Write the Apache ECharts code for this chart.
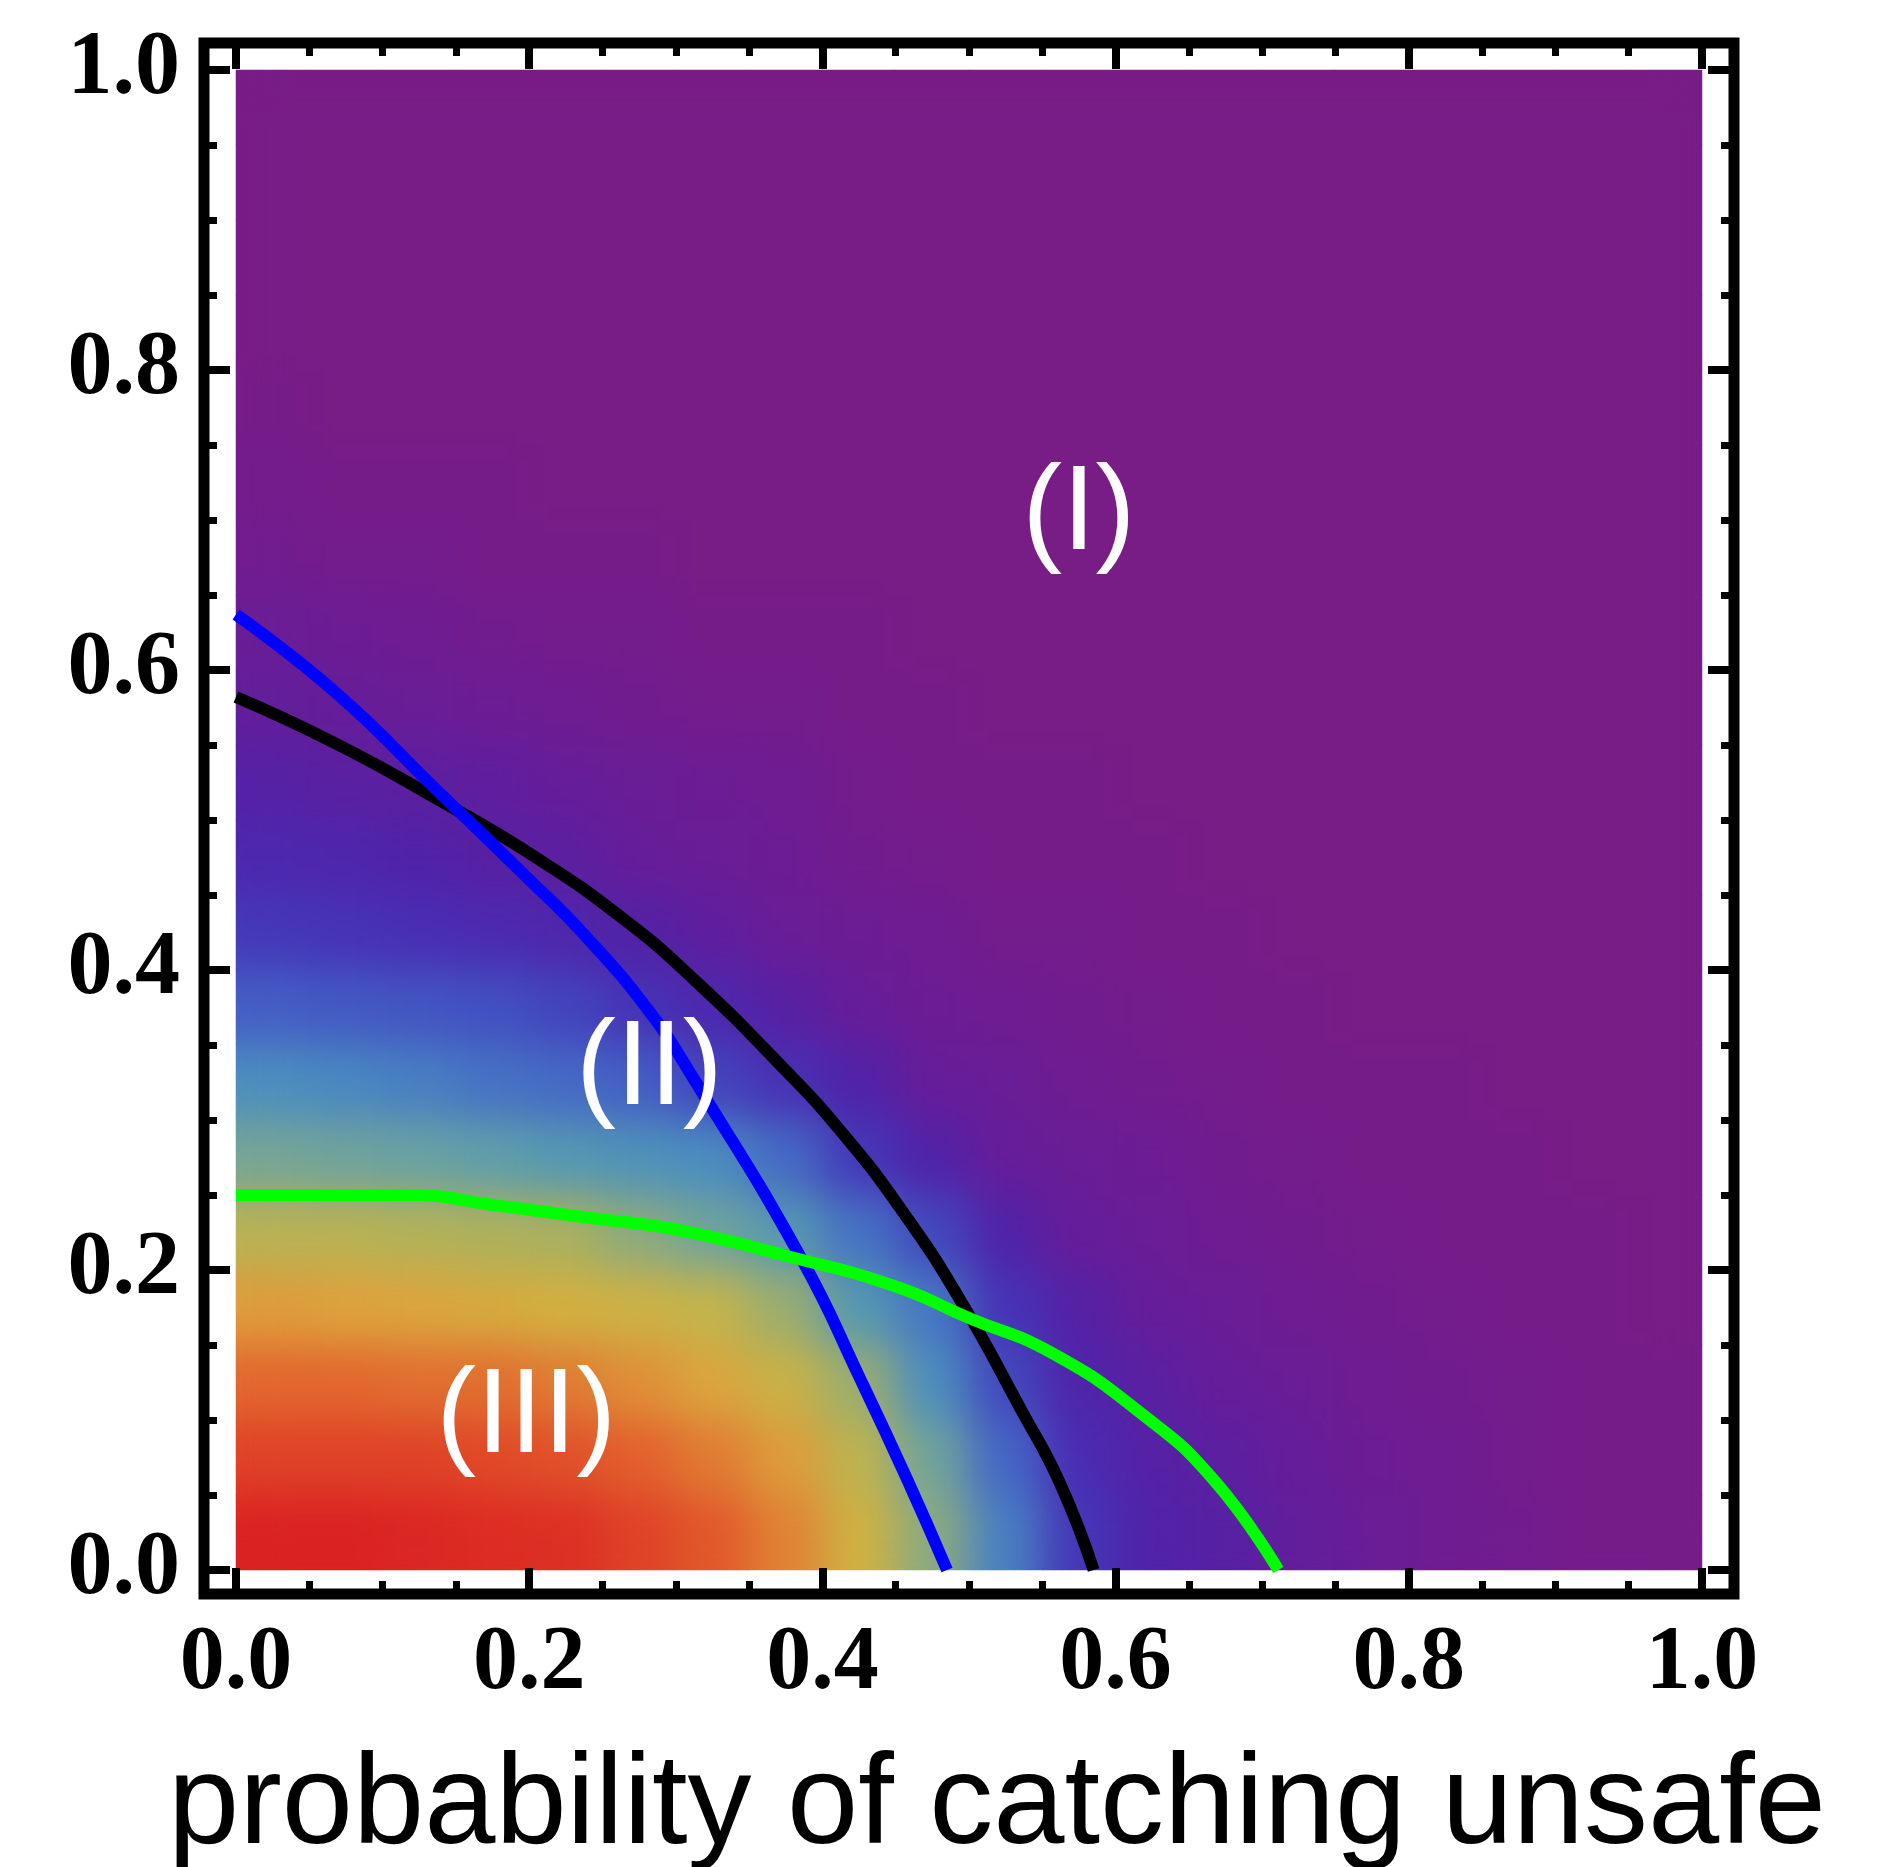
<!DOCTYPE html>
<html>
<head>
<meta charset="utf-8">
<script src="https://cdn.jsdelivr.net/npm/echarts@6/dist/echarts.min.js"></script>
<style>
  html, body { margin: 0; padding: 0; background: #fff; overflow: hidden; }
  #heat, #main { position: absolute; left: 0; top: 0; width: 1884px; height: 1867px; }
  #softWrap { position: absolute; left: 236px; top: 70px; width: 1466px; height: 1500px; overflow: hidden; }
  #soft { width: 1466px; height: 1500px; filter: url(#soften); }
</style>
</head>
<body>
<!-- blur that keeps the edges opaque (alpha is renormalised after the blur) -->
<svg width="0" height="0" style="position:absolute">
  <filter id="soften" x="-5%" y="-5%" width="110%" height="110%" color-interpolation-filters="sRGB">
    <feGaussianBlur stdDeviation="22"/>
    <feComponentTransfer><feFuncA type="linear" slope="60" intercept="0"/></feComponentTransfer>
  </filter>
</svg>
<div id="heat"></div>
<div id="softWrap"><div id="soft"></div></div>
<div id="main"></div>
<script type="text/javascript">
// cell centres of the density map (x across, y from bottom to top)
var cellX = ['0.025','0.075','0.125','0.175','0.225','0.275','0.325','0.375','0.425','0.475',
             '0.525','0.575','0.625','0.675','0.725','0.775','0.825','0.875','0.925','0.975'];
var cellY = cellX.slice();

// density values, one row per y cell, bottom row first
var cellValues = [
  [1.00,1.00,0.99,0.98,0.97,0.94,0.91,0.85,0.74,0.61,0.42,0.24,0.15,0.12,0.08,0.06,0.04,0.03,0.01,0.01],
  [0.94,0.94,0.94,0.93,0.92,0.90,0.86,0.81,0.69,0.57,0.36,0.20,0.13,0.10,0.07,0.05,0.04,0.02,0.01,0.01],
  [0.89,0.89,0.88,0.88,0.86,0.83,0.79,0.72,0.63,0.46,0.29,0.16,0.11,0.07,0.06,0.04,0.03,0.02,0.01,0.01],
  [0.81,0.80,0.79,0.77,0.75,0.73,0.70,0.63,0.51,0.40,0.23,0.13,0.07,0.06,0.04,0.03,0.02,0.01,0.01,0.00],
  [0.68,0.68,0.67,0.66,0.65,0.61,0.57,0.51,0.39,0.29,0.15,0.07,0.06,0.04,0.03,0.02,0.01,0.01,0.01,0.00],
  [0.58,0.57,0.56,0.54,0.51,0.48,0.45,0.37,0.25,0.15,0.07,0.06,0.05,0.03,0.02,0.01,0.01,0.01,0.00,0.00],
  [0.46,0.44,0.42,0.39,0.37,0.34,0.28,0.22,0.15,0.07,0.06,0.04,0.03,0.02,0.01,0.01,0.01,0.00,0.00,0.00],
  [0.34,0.33,0.32,0.31,0.28,0.23,0.18,0.12,0.07,0.05,0.04,0.03,0.02,0.01,0.01,0.00,0.00,0.00,0.00,0.00],
  [0.25,0.23,0.21,0.19,0.17,0.14,0.09,0.06,0.05,0.04,0.02,0.02,0.01,0.01,0.00,0.00,0.00,0.00,0.00,0.00],
  [0.18,0.17,0.15,0.12,0.10,0.07,0.06,0.05,0.03,0.02,0.01,0.01,0.01,0.00,0.00,0.00,0.00,0.00,0.00,0.00],
  [0.13,0.11,0.10,0.09,0.07,0.06,0.05,0.04,0.02,0.01,0.01,0.01,0.00,0.00,0.00,0.00,0.00,0.00,0.00,0.00],
  [0.08,0.07,0.06,0.05,0.04,0.03,0.02,0.02,0.01,0.01,0.00,0.00,0.00,0.00,0.00,0.00,0.00,0.00,0.00,0.00],
  [0.06,0.05,0.04,0.03,0.02,0.02,0.01,0.01,0.01,0.00,0.00,0.00,0.00,0.00,0.00,0.00,0.00,0.00,0.00,0.00],
  [0.03,0.02,0.02,0.01,0.01,0.01,0.00,0.00,0.00,0.00,0.00,0.00,0.00,0.00,0.00,0.00,0.00,0.00,0.00,0.00],
  [0.02,0.01,0.01,0.01,0.00,0.00,0.00,0.00,0.00,0.00,0.00,0.00,0.00,0.00,0.00,0.00,0.00,0.00,0.00,0.00],
  [0.01,0.00,0.00,0.00,0.00,0.00,0.00,0.00,0.00,0.00,0.00,0.00,0.00,0.00,0.00,0.00,0.00,0.00,0.00,0.00],
  [0.00,0.00,0.00,0.00,0.00,0.00,0.00,0.00,0.00,0.00,0.00,0.00,0.00,0.00,0.00,0.00,0.00,0.00,0.00,0.00],
  [0.00,0.00,0.00,0.00,0.00,0.00,0.00,0.00,0.00,0.00,0.00,0.00,0.00,0.00,0.00,0.00,0.00,0.00,0.00,0.00],
  [0.00,0.00,0.00,0.00,0.00,0.00,0.00,0.00,0.00,0.00,0.00,0.00,0.00,0.00,0.00,0.00,0.00,0.00,0.00,0.00],
  [0.00,0.00,0.00,0.00,0.00,0.00,0.00,0.00,0.00,0.00,0.00,0.00,0.00,0.00,0.00,0.00,0.00,0.00,0.00,0.00]
];

// boundary curves [x, y]
var blueCurve = [[0,0.637],[0.068,0.585],[0.139,0.518],[0.195,0.465],[0.239,0.422],[0.283,0.371],
                 [0.310,0.331],[0.386,0.207],[0.426,0.127],[0.458,0.060],[0.485,0]];
var blackCurve = [[0,0.582],[0.068,0.551],[0.139,0.513],[0.203,0.476],[0.263,0.435],[0.312,0.394],
                  [0.371,0.337],[0.413,0.292],[0.454,0.240],[0.494,0.180],[0.536,0.106],[0.562,0.058],[0.585,0]];
var greenCurve = [[0,0.25],[0.117,0.25],[0.178,0.243],[0.239,0.235],[0.3,0.227],[0.377,0.209],
                  [0.45,0.189],[0.5,0.168],[0.556,0.145],[0.618,0.104],[0.667,0.06],[0.711,0]];

// region names and where they sit
var regionLabels = [['(I)', 0.575, 0.703], ['(II)', 0.282, 0.333], ['(III)', 0.198, 0.101]];
var xTitle = 'probability of catching unsafe';

// rainbow colour scale, 0 (purple) to 1 (red)
var rainbow = ['#781C86','#6C1C94','#5C1FA0','#5022A8','#4A2CB2','#4438B8','#424CC0','#4462C6',
               '#4676C4','#4A8CC0','#5296B4','#62A0A8','#84A888','#A8B060','#C2B44C','#D2B040',
               '#DDA23C','#E08234','#E2602D','#DE3A25','#DA2222'];

function heatOption(gridPos) {
  var data = [];
  cellValues.forEach(function (row, r) {
    row.forEach(function (v, c) { data.push([c, r, v]); });
  });
  return {
    animation: false,
    grid: gridPos,
    xAxis: { type: 'category', data: cellX, show: false },
    yAxis: { type: 'category', data: cellY, show: false },
    visualMap: { show: false, min: 0, max: 1, inRange: { color: rainbow } },
    series: [{ type: 'heatmap', data: data, progressive: 0 }]
  };
}

// sharp cells underneath, smoothed copy on top of them
echarts.init(document.getElementById('heat')).setOption(
  heatOption({ left: 236, top: 70, width: 1466, height: 1500 }));
echarts.init(document.getElementById('soft')).setOption(
  heatOption({ left: 0, top: 0, right: 0, bottom: 0 }));

var labelFont = { fontFamily: '"Liberation Serif", "Times New Roman", serif', fontWeight: 'bold', fontSize: 90, color: '#000' };

function frameAxis(position, offset, showLabel, margin) {
  return {
    type: 'value', position: position, offset: offset,
    min: 0, max: 1, interval: 0.2,
    splitLine: { show: false },
    axisLine: { show: false, onZero: false },
    axisTick: { show: true, inside: true, length: 26, lineStyle: { color: '#000', width: 8 } },
    minorTick: { show: true, splitNumber: 4, length: 13, lineStyle: { color: '#000', width: 7 } },
    axisLabel: Object.assign({ show: showLabel, margin: margin, formatter: function (v) { return v.toFixed(1); } }, labelFont)
  };
}

var myChart = echarts.init(document.getElementById('main'));
var option = {
  animation: false,
  backgroundColor: 'transparent',
  grid: { left: 236, top: 70, width: 1466, height: 1500 },
  xAxis: [frameAxis('bottom', 24, true, 26), frameAxis('top', 27, false, 0)],
  yAxis: [frameAxis('left', 32, true, 24), frameAxis('right', 32, false, 0)],
  graphic: [
    { type: 'rect', z: 100, shape: { x: 204, y: 43, width: 1530, height: 1551 },
      style: { fill: 'none', stroke: '#000', lineWidth: 11 } },
    { type: 'text', x: 997, y: 1808,
      style: { text: xTitle, font: '128px "Liberation Sans", Arial, sans-serif', fill: '#000',
               textAlign: 'center', textVerticalAlign: 'middle', align: 'center', verticalAlign: 'middle' } }
  ],
  series: [
    { type: 'line', data: blackCurve, smooth: 0.5, showSymbol: false,
      lineStyle: { color: '#000', width: 12 } },
    { type: 'line', data: blueCurve, smooth: 0.5, showSymbol: false,
      lineStyle: { color: '#0000ff', width: 12 } },
    { type: 'line', data: greenCurve, smooth: 0.5, showSymbol: false,
      lineStyle: { color: '#00ff00', width: 12 } },
    { type: 'scatter', symbolSize: 1, z: 5,
      itemStyle: { color: 'rgba(0,0,0,0)', opacity: 1 },
      data: regionLabels.map(function (d) { return { name: d[0], value: [d[1], d[2]] }; }),
      label: { show: true, position: 'inside', formatter: '{b}', color: '#fff', fontSize: 120,
               fontFamily: '"Liberation Sans", Arial, sans-serif' } }
  ]
};
myChart.setOption(option, true);
</script>
</body>
</html>
